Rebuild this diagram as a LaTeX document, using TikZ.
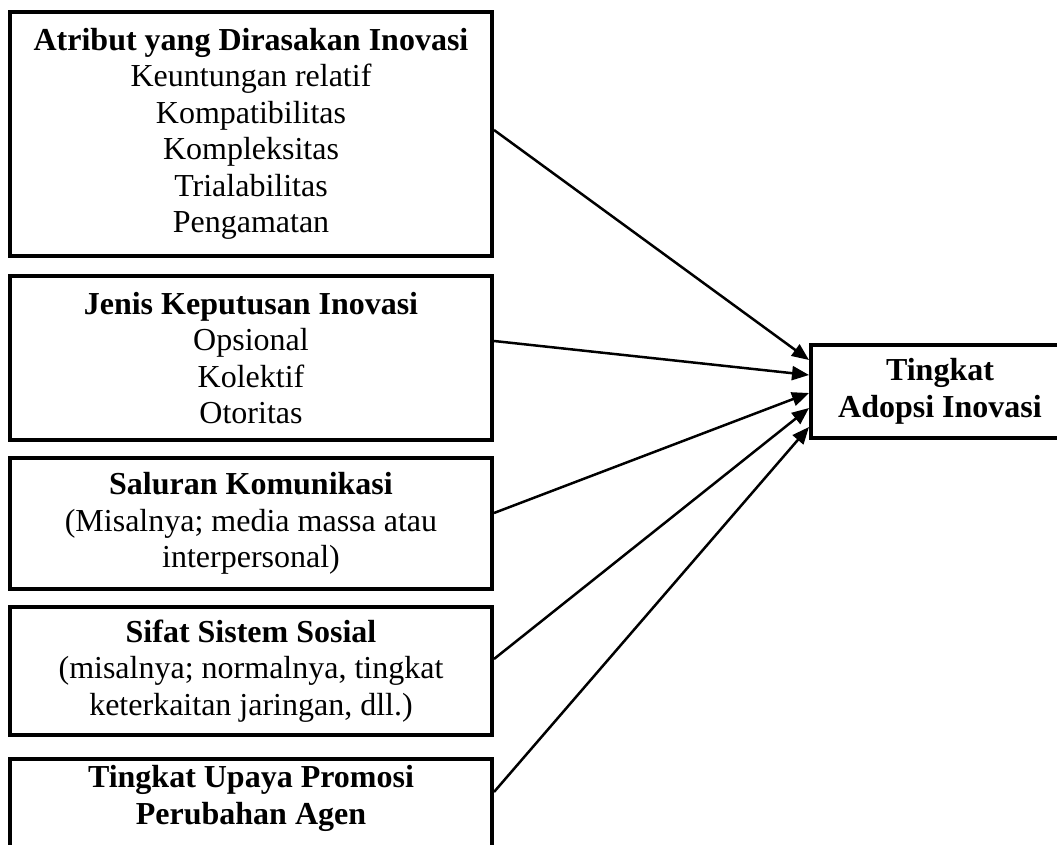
\documentclass[tikz,border=0pt]{standalone}
\usepackage{fontspec}
\setmainfont{Liberation Serif}
\usetikzlibrary{arrows.meta}
\begin{document}
\begin{tikzpicture}[x=1pt,y=-1pt,
  box/.style={draw=black, line width=4pt, fill=white, align=center, inner sep=0pt,
    minimum width=482pt, font=\fontsize{32}{36.5}\selectfont},
  conn/.style={line width=2.5pt, -{Triangle[length=17pt,width=14pt]}}]
\useasboundingbox (0,0) rectangle (1057,845);
\begin{scope}
\clip (0,0) rectangle (1057,845);
\begin{scope}[overlay]
\node[box, minimum height=244pt] (b1) at (251,134)
  {\textbf{Atribut yang Dirasakan Inovasi}\\Keuntungan relatif\\Kompatibilitas\\Kompleksitas\\Trialabilitas\\Pengamatan};
\node[box, minimum height=164pt] (b2) at (251,358)
  {\textbf{Jenis Keputusan Inovasi}\\Opsional\\Kolektif\\Otoritas};
\node[box, minimum height=131pt] (b3) at (251,523.5)
  {\textbf{Saluran Komunikasi}\\(Misalnya; media massa atau\\interpersonal)};
\node[box, minimum height=128pt] (b4) at (251,671)
  {\textbf{Sifat Sistem Sosial}\\(misalnya; normalnya, tingkat\\keterkaitan jaringan, dll.)};
\node[box, anchor=north, text depth=95pt, text height=65pt] (b5) at (251,757)
  {\textbf{Tingkat Upaya Promosi}\\\textbf{Perubahan Agen}};
\node[box, minimum width=258pt, minimum height=93pt] (t) at (940,391.5)
  {\textbf{Tingkat}\\\textbf{Adopsi Inovasi}};
\draw[conn] ([yshift=4pt]b1.east) -- ([yshift=-17pt]t.north west);
\draw[conn] ([yshift=17pt]b2.east) -- ([yshift=-32pt]t.north west);
\draw[conn] ([yshift=10.5pt]b3.east) -- ([yshift=-50pt]t.north west);
\draw[conn] ([yshift=12pt]b4.east) -- ([yshift=-65pt]t.north west);
\draw[conn] ([yshift=-35pt]b5.north east) -- ([yshift=-84pt]t.north west);
\end{scope}
\end{scope}
\end{tikzpicture}
\end{document}
